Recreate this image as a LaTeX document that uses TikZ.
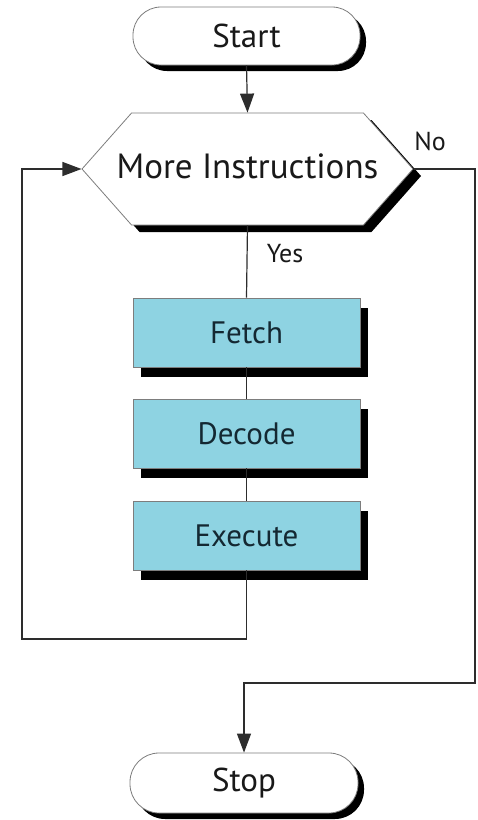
\documentclass[tikz,border=0pt]{standalone}
\usepackage{fontspec}
\setmainfont{PT Sans}
\usetikzlibrary{shapes.symbols,shadows,arrows.meta}
\definecolor{boxblue}{RGB}{142,211,226}
\definecolor{boxtext}{RGB}{20,40,50}
\definecolor{edgegray}{RGB}{125,125,125}
\definecolor{wire}{RGB}{45,45,45}
\begin{document}
\begin{tikzpicture}[x=1pt,y=-1pt,
  term/.style={draw=edgegray, line width=0.8pt, fill=white, rounded corners=28pt,
    minimum width=227pt, minimum height=58pt, inner sep=0pt,
    font=\fontsize{33}{38}\selectfont, text=black!90,
    drop shadow={shadow xshift=6pt, shadow yshift=-6pt, fill=black, opacity=1}},
  decision/.style={draw=edgegray, line width=0.8pt, fill=white, shape=signal,
    signal to=east and west, signal pointer angle=97,
    minimum width=331pt, minimum height=112pt, inner sep=0pt,
    font=\fontsize{35}{40}\selectfont, text=black!90,
    drop shadow={shadow xshift=8pt, shadow yshift=-7pt, fill=black, opacity=1}},
  procbox/.style={draw=edgegray, line width=0.6pt, fill=boxblue,
    minimum width=227pt, minimum height=69pt, inner sep=0pt,
    font=\fontsize{31}{36}\selectfont, text=boxtext,
    drop shadow={shadow xshift=8pt, shadow yshift=-10pt, fill=black, opacity=1}},
  wirestyle/.style={draw=wire, line width=1.2pt},
  arr/.style={wirestyle, -{Triangle[length=19pt,width=14pt]}},
  lbl/.style={font=\fontsize{26}{30}\selectfont, text=black!90, inner sep=0pt}]
\useasboundingbox (0,0) rectangle (477,820);
\node[term] (start) at (246.5,36) {Start};
\node[decision] (dec) at (247.5,169) {\makebox[0pt][c]{\raisebox{6pt}{More Instructions}}};
\node[procbox] (fetch) at (246.5,332.5) {Fetch};
\node[procbox] (decode) at (246.5,433.5) {Decode};
\node[procbox] (exec) at (246.5,535.5) {Execute};
\node[term, minimum width=228pt, minimum height=60pt, rounded corners=29pt] (stop) at (244,783) {Stop};
\node[lbl] (yes) at (285,254) {Yes};
\node[lbl] (no) at (430,141) {No};
\coordinate (lb) at (22,639);
\coordinate (rt) at (475,169);
\coordinate (rb) at (475,683);
\draw[arr] (start.south) -- (dec.north);
\draw[wirestyle] (dec.south) -- (fetch.north);
\draw[wirestyle] (fetch.south) -- (decode.north);
\draw[wirestyle] (decode.south) -- (exec.north);
\draw[arr] (exec.south) |- (lb) |- (dec.west);
\draw[arr] (dec.east) -- (rt) -- (rb) -| (stop.north);
\end{tikzpicture}
\end{document}
